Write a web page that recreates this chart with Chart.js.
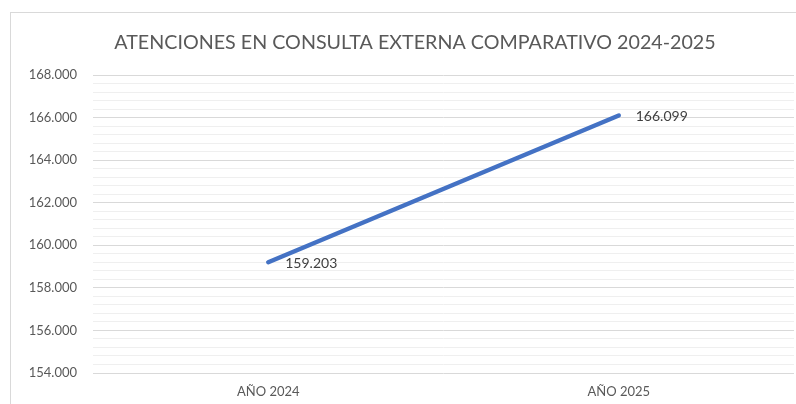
<!DOCTYPE html>
<html>
<head>
<meta charset="utf-8">
<script src="https://cdn.jsdelivr.net/npm/chart.js@4/dist/chart.umd.min.js"></script>
<style>
  html, body { margin: 0; padding: 0; background: #fff; overflow: hidden; }
  #wrap { width: 796px; height: 404px; position: relative; }
</style>
</head>
<body>
<div id="wrap"><canvas id="myChart"></canvas></div>
<script>
var categories = ['AÑO 2024', 'AÑO 2025'];
var atenciones = [159203, 166099];
var yMin = 154000;
var yMax = 168000;
var majorStep = 2000;
var minorStep = 400;
var titleText = 'ATENCIONES EN CONSULTA EXTERNA COMPARATIVO 2024-2025';

function fmt(v) {
  return String(Math.round(v)).replace(/\B(?=(\d{3})+(?!\d))/g, '.');
}

var fontFamily = 'Lato, "Open Sans", sans-serif';
var textColor = '#595959';

// frame + title (title is centred on the frame, not the canvas)
var framePlugin = {
  id: 'frame',
  beforeDraw: function (chart) {
    var ctx = chart.ctx;
    ctx.save();
    ctx.strokeStyle = '#d9d9d9';
    ctx.lineWidth = 1;
    ctx.strokeRect(10.5, 12.5, 900, 600);
    ctx.font = '19.7px ' + fontFamily;
    ctx.fillStyle = textColor;
    ctx.textAlign = 'center';
    ctx.textBaseline = 'middle';
    ctx.fillText(titleText, 415, 43);
    ctx.restore();
  }
};

// value labels to the right of each point
var valueLabels = {
  id: 'valueLabels',
  afterDatasetsDraw: function (chart) {
    var ctx = chart.ctx;
    var meta = chart.getDatasetMeta(0);
    ctx.save();
    ctx.font = '14px ' + fontFamily;
    ctx.fillStyle = '#404040';
    ctx.textAlign = 'left';
    ctx.textBaseline = 'middle';
    meta.data.forEach(function (pt, i) {
      ctx.fillText(fmt(atenciones[i]), pt.x + 17, pt.y + 1);
    });
    ctx.restore();
  }
};

var chart = new Chart(document.getElementById('myChart'), {
  type: 'line',
  data: {
    labels: categories,
    datasets: [{
      label: 'Atenciones',
      data: atenciones,
      borderColor: '#4472c4',
      borderWidth: 4.5,
      borderCapStyle: 'round',
      pointRadius: 0,
      tension: 0,
      fill: false
    }]
  },
  options: {
    responsive: true,
    maintainAspectRatio: false,
    animation: false,
    layout: { padding: { top: 75, right: 2, bottom: 0, left: 0 } },
    plugins: {
      legend: { display: false },
      tooltip: { enabled: false },
      title: { display: false }
    },
    scales: {
      x: {
        offset: true,
        grid: { display: false, drawTicks: false },
        border: { display: false },
        ticks: {
          color: textColor,
          font: { family: fontFamily, size: 13 },
          padding: 11
        },
        afterFit: function (scale) { scale.height = 31; }
      },
      y: {
        min: yMin,
        max: yMax,
        border: { display: false },
        grid: {
          drawTicks: false,
          lineWidth: 1,
          color: function (c) {
            return (c.tick && c.tick.value % majorStep === 0) ? '#d9d9d9' : '#efefef';
          }
        },
        ticks: {
          stepSize: minorStep,
          autoSkip: false,
          color: textColor,
          font: { family: fontFamily, size: 13 },
          padding: 16,
          callback: function (v) {
            return v % majorStep === 0 ? fmt(v) : '';
          }
        },
        afterFit: function (scale) { scale.width = 93; }
      }
    }
  },
  plugins: [framePlugin, valueLabels]
});
</script>
</body>
</html>
